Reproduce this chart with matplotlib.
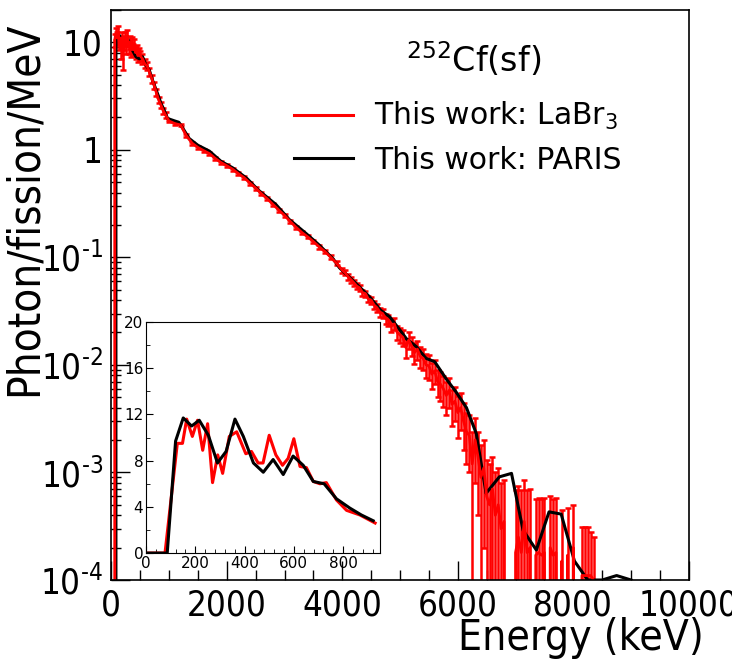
import numpy as np
import matplotlib
matplotlib.use("Agg")
import matplotlib.pyplot as plt
from matplotlib.lines import Line2D
from matplotlib.ticker import MultipleLocator, LogLocator, FixedLocator, FixedFormatter, NullFormatter

plt.rcParams['font.family'] = ['DejaVu Sans']
plt.rcParams['mathtext.default'] = 'regular'

# --- inset (linear scale, 0-950 keV)
in_red_e = [0, 20, 40, 60, 77, 127, 148, 165, 188, 209, 230, 250, 270, 291, 311, 338, 368,
            405, 428, 455, 475, 500, 527, 554, 577, 600, 625, 651, 679, 706, 732, 773, 814, 868, 930]
in_red_y = [0, 0, 0, 0, 0, 9.5, 9.5, 11.6, 10.1, 11.5, 8.9, 11.2, 6.1, 8.5, 6.9, 10.1, 10.5,
            8.6, 8.8, 7.8, 7.8, 10.2, 8.5, 7.6, 8.2, 9.9, 7.5, 7.4, 6.2, 6.0, 6.1, 4.6, 3.7, 3.3, 2.6]
in_black_e = [0, 40, 86, 120, 151, 185, 216, 253, 290, 325, 361, 395, 436, 476, 516, 557, 597,
              638, 679, 723, 773, 827, 874, 922]
in_black_y = [0, 0, 0, 9.7, 11.7, 11.0, 11.5, 10.2, 7.8, 8.8, 11.6, 10.1, 7.8, 7.0, 8.1, 6.8, 8.4,
              7.6, 6.2, 6.0, 4.7, 3.9, 3.3, 2.8]

# --- LaBr3 (red), main panel, keV / photon per fission per MeV
red_e = [0, 30, 50, 60, 80, 100, 120, 140, 160, 180, 200, 220, 240, 260, 280, 300, 320, 340,
         360, 380, 400, 420, 440, 460, 480, 500, 540, 580, 620, 660, 700, 740, 780, 820, 860,
         900, 940,
         1000, 1100, 1200, 1300, 1400, 1500, 1600, 1700, 1800, 1900, 2000, 2100, 2200, 2300,
         2400, 2500, 2600, 2700, 2800, 2900, 3000, 3100, 3200, 3300, 3400, 3500, 3600, 3700,
         3800, 3900,
         4000, 4050, 4100, 4150, 4200, 4250, 4300, 4350, 4400, 4450, 4500, 4550, 4600, 4650,
         4700, 4750, 4800, 4850, 4900, 4950, 5000, 5050, 5100, 5150, 5200, 5250, 5300, 5350,
         5400, 5450, 5500, 5550, 5600, 5650, 5700, 5750, 5800, 5850, 5900, 5950, 6000, 6050,
         6100, 6150, 6200, 6250, 6300, 6350, 6400, 6450, 6500, 6550, 6600, 6650, 6700, 6750,
         6800, 6850, 6900, 6950, 7000, 7050, 7100, 7150, 7200, 7250, 7300, 7350, 7400, 7450,
         7500, 7550, 7600, 7650, 7700, 7750, 7800, 7850, 7900, 7950, 8000, 8050, 8100, 8150,
         8200, 8250, 8300, 8350, 8400, 8450, 8500]
red_y = [0, 0, 0, 10.5, 12, 11, 12.5, 10, 8.5, 11, 7.5, 10, 11, 9, 11.5, 9, 10, 8.5,
         10, 8.5, 9.5, 8, 8.5, 7.5, 8, 7.5, 7, 6.3, 6.0, 5.3, 4.6, 4.0, 3.4, 2.9, 2.6,
         2.3, 2.1,
         1.85, 1.75, 1.7, 1.35, 1.15, 1.05, 0.98, 0.92, 0.83, 0.76, 0.71, 0.66, 0.6, 0.55,
         0.49, 0.44, 0.39, 0.35, 0.31, 0.275, 0.245, 0.215, 0.19, 0.17, 0.155, 0.14, 0.125, 0.113,
         0.1, 0.088,
         0.076, 0.072, 0.066, 0.062, 0.058, 0.054, 0.052, 0.047, 0.046, 0.041, 0.040, 0.036, 0.034, 0.031,
         0.030, 0.027, 0.026, 0.023, 0.024, 0.020, 0.019, 0.018, 0.0145, 0.017, 0.015, 0.013, 0.014, 0.012,
         0.0115, 0.010, 0.0098, 0.0082, 0.0088, 0.0070, 0.0066, 0.0060, 0.0052, 0.0058, 0.0043, 0.0046, 0.0036, 0.0040,
         0.0030, 0.0024, 0.0022, 0.0012, 0.0020, 0.0014, 0.0009, 0.0011, 0.0006, 0.0005, 0.0007, 0.0004, 0.0005, 0.0003,
         0.00035, 0, 0, 0, 0.00018, 0.00025, 0.00018, 0.00035, 0.00018, 0.0002, 0, 0.00017, 0.00018, 0.00017,
         0.00018, 0, 0.0002, 0.00017, 0.00018, 0, 0.00015, 0, 0.00017, 0, 0.0002, 0, 0, 0.00011,
         0.00011, 0.00011, 0.00011, 0.0001, 0, 0, 0]
red_err = [0, 0, 0, 1.5, 1.5, 1.5, 1.5, 1.5, 1.5, 1.5, 2.0, 1.5, 1.5, 1.3, 1.5, 1.3, 1.3, 1.2,
           1.2, 1.1, 1.1, 1.0, 1.0, 0.9, 0.9, 0.8, 0.7, 0.6, 0.5, 0.45, 0.4, 0.3, 0.25, 0.2, 0.18,
           0.15, 0.12,
           0.05, 0.05, 0.05, 0.04, 0.035, 0.03, 0.03, 0.03, 0.025, 0.025, 0.02, 0.02, 0.02, 0.02,
           0.015, 0.015, 0.012, 0.011, 0.01, 0.009, 0.008, 0.007, 0.006, 0.006, 0.005, 0.005, 0.005, 0.004,
           0.004, 0.004,
           0.004, 0.004, 0.004, 0.004, 0.0035, 0.0035, 0.0035, 0.003, 0.003, 0.003, 0.003, 0.003, 0.003, 0.003,
           0.003, 0.003, 0.003, 0.003, 0.003, 0.003, 0.003, 0.003, 0.003, 0.003, 0.003, 0.0028, 0.0028, 0.0026,
           0.0026, 0.0025, 0.0025, 0.0022, 0.0022, 0.002, 0.002, 0.0019, 0.0018, 0.0018, 0.0016, 0.0016, 0.0015, 0.0015,
           0.0014, 0.0012, 0.0012, 0.0012, 0.0012, 0.0010, 0.0009, 0.0009, 0.0007, 0.0007, 0.0007, 0.0006, 0.0006, 0.0005,
           0.0005, 0, 0, 0, 0.0005, 0.0005, 0.0005, 0.0005, 0.0005, 0.0005, 0, 0.0004, 0.0004, 0.0004,
           0.0004, 0, 0.0004, 0.0004, 0.0004, 0, 0.0003, 0, 0.0003, 0, 0.0003, 0, 0, 0.0002,
           0.0002, 0.0002, 0.00017, 0.00015, 0, 0, 0]

# --- PARIS (black), main panel
black_e = [0, 60, 81, 139, 208, 283, 353, 428, 485, 543, 601, 659, 716, 803, 861, 920,
           976, 1100, 1170, 1250, 1350, 1500, 1700, 1900, 2100, 2350, 2550, 2850, 3080, 3370,
           3600, 3840, 3950, 4240, 4470, 4670, 4820, 5000, 5110, 5280, 5450, 5600, 5800, 5970,
           6150, 6320, 6490, 6720, 6930, 7130, 7360, 7580, 7790, 8020, 8250, 8500, 8750, 9000]
black_y = [0, 0, 10.8, 11.6, 9.7, 10.8, 8.7, 7.3, 7.0, 7.3, 6.1, 5.5, 4.4, 3.3, 2.7, 2.3,
           1.95, 1.85, 1.8, 1.55, 1.27, 1.1, 0.97, 0.78, 0.68, 0.54, 0.42, 0.31, 0.225, 0.167,
           0.13, 0.097, 0.08, 0.057, 0.043, 0.032, 0.028, 0.021, 0.0175, 0.0148, 0.0115, 0.0107, 0.0074, 0.0056,
           0.0040, 0.0023, 0.00064, 0.00091, 0.00098, 0.00029, 0.00019, 0.00043, 0.00041, 0.00015, 0.0001, 0.0001, 0.00011, 0.0001]

y_ticks = [1e-4, 1e-3, 1e-2, 1e-1, 1, 10]
y_labels = ['$10^{\u20104}$', '$10^{\u20103}$', '$10^{\u20102}$', '$10^{\u20101}$', '1', '10']

fig = plt.figure(figsize=(7.32, 6.6), dpi=100)
ax = fig.add_axes([0.152, 0.1212, 0.789, 0.864])

ax.errorbar(red_e, red_y, yerr=red_err, color='red', lw=2, elinewidth=1.8,
            capsize=2, capthick=1.8)
ax.plot(black_e, black_y, color='black', lw=2.2)

ax.set_yscale('log')
ax.set_xlim(0, 10000)
ax.set_ylim(1e-4, 20)
ax.yaxis.set_major_locator(FixedLocator(y_ticks))
ax.yaxis.set_major_formatter(FixedFormatter(y_labels))
ax.yaxis.set_minor_locator(LogLocator(base=10, subs=np.arange(2, 10)))
ax.yaxis.set_minor_formatter(NullFormatter())
ax.xaxis.set_major_locator(MultipleLocator(2000))
ax.xaxis.set_minor_locator(MultipleLocator(500))
ax.tick_params(which='both', direction='in', top=False, right=False, width=1)
ax.tick_params(which='major', length=14, labelsize=25, pad=6)
ax.tick_params(which='minor', length=7)
for lab in ax.get_xticklabels() + ax.get_yticklabels():
    lab.set_fontstretch('condensed')
for sp in ax.spines.values():
    sp.set_linewidth(1.2)
ax.set_xlabel('Energy (keV)', fontsize=30.5, fontstretch='condensed', ha='right', va='top')
ax.xaxis.set_label_coords(1.026, -0.064)
ax.set_ylabel('Photon/fission/MeV', fontsize=31.5, fontstretch='condensed', ha='right', va='bottom')
ax.yaxis.set_label_coords(-0.114, 0.98)

fig.text(0.647, 0.909, '$^{252}$Cf(sf)', fontsize=24, ha='center', va='center')
handles = [Line2D([], [], color='red', lw=2.2), Line2D([], [], color='black', lw=2.2)]
ax.legend(handles, ['This work: LaBr$_3$', 'This work: PARIS'], frameon=False, fontsize=21.5,
          loc='upper left', bbox_to_anchor=(0.401, 0.848), bbox_transform=fig.transFigure,
          borderpad=0, handlelength=2.0, handletextpad=0.7, labelspacing=0.45, borderaxespad=0)

# inset: low energy part on linear scale
axin = fig.add_axes([0.1995, 0.162, 0.3197, 0.35])
axin.plot(in_red_e, in_red_y, color='red', lw=2.2)
axin.plot(in_black_e, in_black_y, color='black', lw=2.2)
axin.set_xlim(0, 950)
axin.set_ylim(0, 20)
axin.xaxis.set_major_locator(MultipleLocator(200))
axin.xaxis.set_minor_locator(MultipleLocator(40))
axin.yaxis.set_major_locator(MultipleLocator(4))
axin.yaxis.set_minor_locator(MultipleLocator(2))
axin.tick_params(which='both', direction='in', top=False, right=False, labelsize=11, pad=2)
axin.tick_params(which='major', length=5)
axin.tick_params(which='minor', length=3)

fig.savefig('out.png', dpi=100)
